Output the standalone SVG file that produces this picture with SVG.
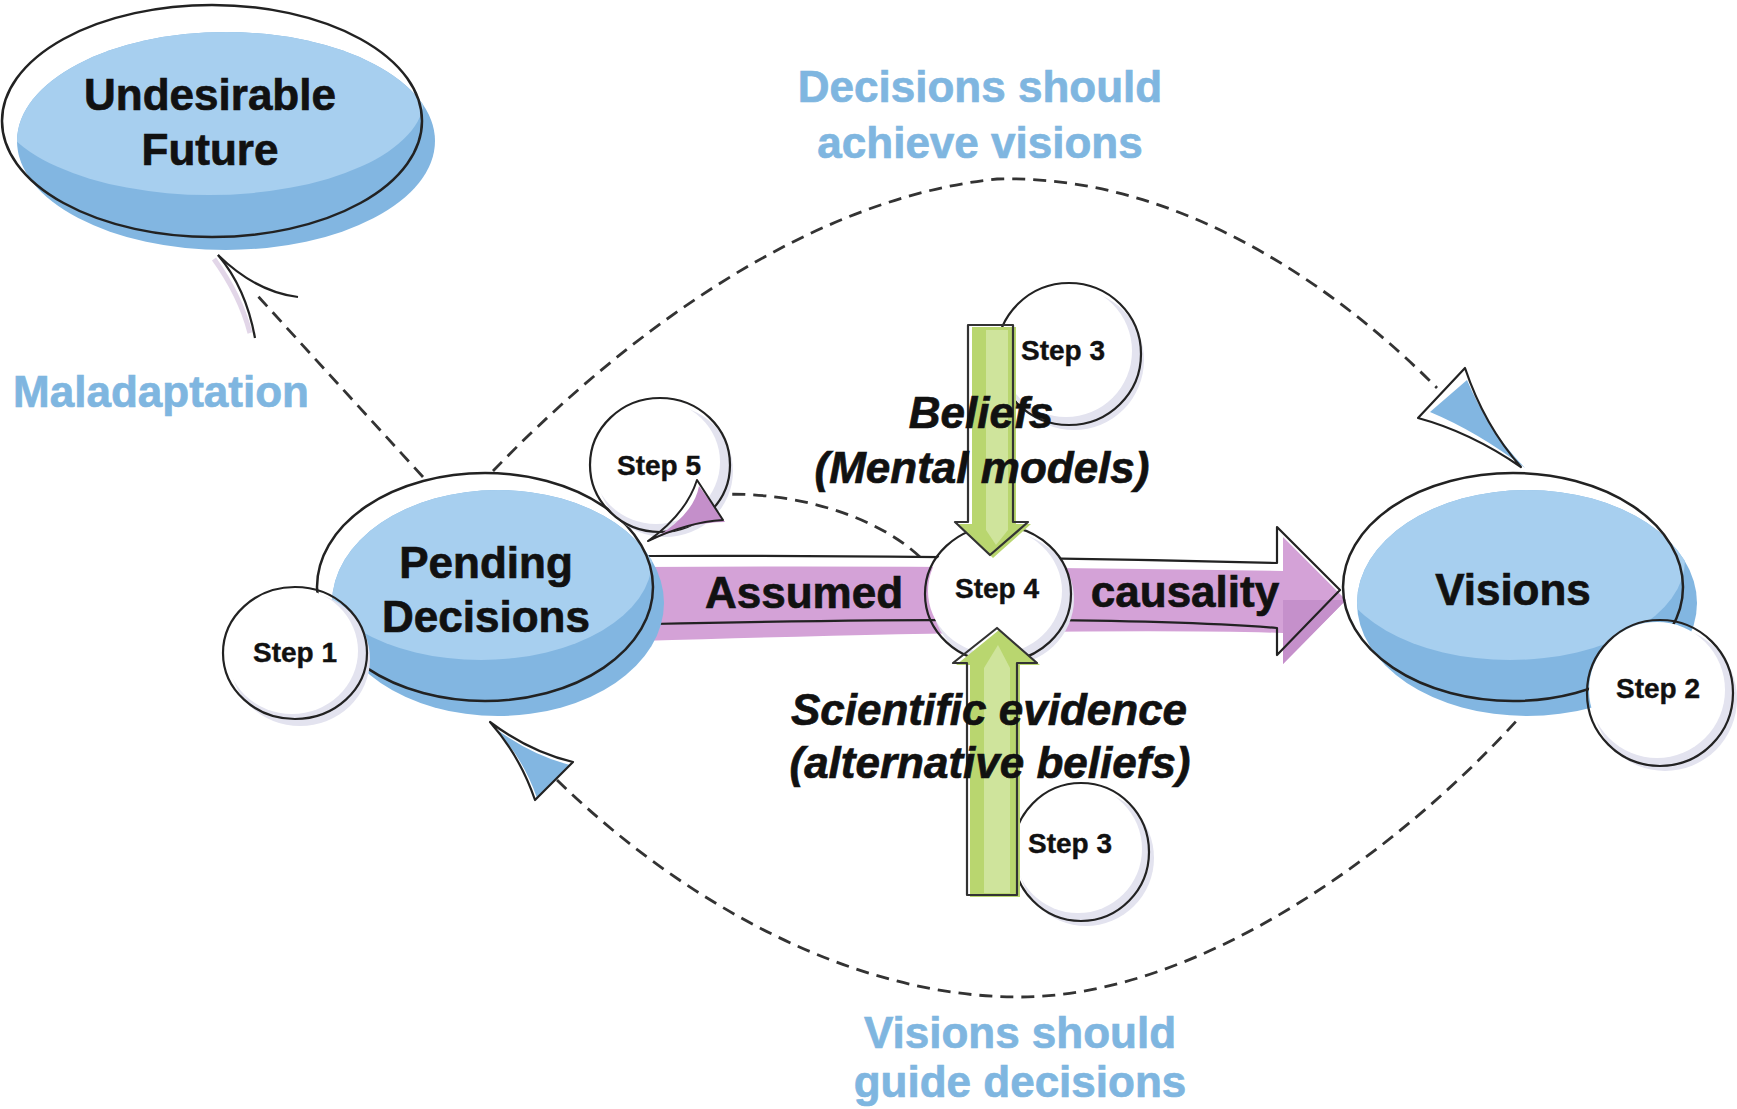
<svg xmlns="http://www.w3.org/2000/svg" width="1737" height="1109" viewBox="0 0 1737 1109">
<style>
.t{font-family:"Liberation Sans",Arial,sans-serif;font-weight:bold;font-size:44px;text-anchor:middle;fill:#111;stroke:#111;stroke-width:0.7}
.it{font-style:italic}
.bl{fill:#7fb6e0;stroke:#7fb6e0}
.st{font-size:28px;stroke-width:0.4}
.ol{fill:none;stroke:#222;stroke-width:2.5}
.dash{fill:none;stroke:#333;stroke-width:2.8;stroke-dasharray:13 8}
.dk{fill:#82b6e1}
.lt{fill:#a7cfef}
.sh{fill:#e3e3ef}
.wh{fill:#ffffff}
.so{fill:none;stroke:#222;stroke-width:2.2}
.gr{fill:#b9d66f}
.gl{fill:#cfe49c}
.go{fill:none;stroke:#333;stroke-width:2.2;stroke-linejoin:round}
</style>
<defs>
<clipPath id="cu"><ellipse cx="226" cy="141" rx="209" ry="109"/></clipPath>
<clipPath id="cp"><ellipse cx="498" cy="603" rx="166" ry="113"/></clipPath>
<clipPath id="cv"><ellipse cx="1527" cy="603" rx="170" ry="113"/></clipPath>
</defs>
<rect width="1737" height="1109" fill="#ffffff"/>

<g id="connectors">
  <path class="dash" d="M 423 477 L 255 293"/>
  <path d="M 214 259 Q 240 295 250 333" fill="none" stroke="#e2d6e8" stroke-width="5"/>
  <path d="M 218 255 Q 246 288 255 338" fill="none" stroke="#222" stroke-width="2.2"/>
  <path d="M 218 255 Q 256 292 298 297" fill="none" stroke="#222" stroke-width="2.2"/>
  <path class="dash" d="M 493 471 C 600 360, 790 200, 997 179 C 1180 174, 1340 290, 1437 388"/>
  <path d="M 1467 380 Q 1488 430 1525 468 Q 1478 432 1430 412 Z" fill="#82b6e1"/>
  <path d="M 1465 368 Q 1484 425 1521 467 Q 1470 432 1418 418 Z" fill="none" stroke="#222" stroke-width="2.2" stroke-linejoin="round"/>
  <path class="dash" d="M 557 780 C 680 900, 850 997, 1019 997 C 1200 997, 1400 850, 1520 717"/>
  <path d="M 492 726 Q 530 755 570 765 L 537 798 Q 522 755 492 726 Z" fill="#82b6e1"/>
  <path d="M 490 722 Q 530 752 573 762 L 535 800 Q 520 756 490 722 Z" fill="none" stroke="#222" stroke-width="2.2" stroke-linejoin="round"/>
  <path class="dash" d="M 920 557 C 870 510, 780 490, 713 495"/>
  <path d="M 640 567 Q 960 565 1283 571 L 1283 537 L 1346 600 L 1283 664 L 1283 633 Q 1100 627 640 641 Z" fill="#d4a2d7"/>
  <path d="M 1283 600 L 1346 600 L 1283 664 L 1283 633 Z" fill="#c590cb"/>
  <path d="M 648 556 Q 960 555 1277 563 L 1277 527 L 1340 590 L 1277 655 L 1277 628 Q 1100 614 652 624" fill="none" stroke="#222" stroke-width="2.2" stroke-linejoin="round"/>
</g>

<g id="node-undesirable-future">
  <ellipse class="dk" cx="226" cy="141" rx="209" ry="109"/>
  <ellipse class="lt" cx="209" cy="98" rx="215" ry="97" clip-path="url(#cu)"/>
  <ellipse class="ol" cx="212" cy="121" rx="210" ry="116"/>
  <text class="t" x="210" y="110">Undesirable</text>
  <text class="t" x="210" y="165">Future</text>
</g>

<g id="node-pending-decisions">
  <ellipse class="dk" cx="498" cy="603" rx="166" ry="113"/>
  <ellipse class="lt" cx="481" cy="560" rx="171" ry="100" clip-path="url(#cp)"/>
  <ellipse class="ol" cx="485" cy="587" rx="168" ry="114"/>
  <text class="t" x="486" y="578">Pending</text>
  <text class="t" x="486" y="632">Decisions</text>
</g>

<g id="node-visions">
  <ellipse class="dk" cx="1527" cy="603" rx="170" ry="113"/>
  <ellipse class="lt" cx="1510" cy="560" rx="175" ry="100" clip-path="url(#cv)"/>
  <ellipse class="ol" cx="1513" cy="587" rx="170" ry="114"/>
  <text class="t" x="1513" y="605">Visions</text>
</g>

<g id="node-step1">
  <ellipse class="sh" cx="300" cy="659" rx="70" ry="67"/>
  <ellipse class="wh" cx="292" cy="651" rx="66" ry="63"/>
  <ellipse class="so" cx="295" cy="653" rx="72" ry="66"/>
  <text class="t st" x="295" y="662">Step 1</text>
</g>

<g id="node-step2">
  <ellipse class="sh" cx="1665" cy="699" rx="72" ry="72"/>
  <ellipse class="wh" cx="1657" cy="690" rx="68" ry="68"/>
  <ellipse class="so" cx="1660" cy="693" rx="73" ry="73"/>
  <text class="t st" x="1658" y="698">Step 2</text>
</g>

<g id="node-step5">
  <ellipse class="sh" cx="665" cy="471" rx="68" ry="66"/>
  <ellipse class="wh" cx="656" cy="462" rx="64" ry="62"/>
  <ellipse class="so" cx="660" cy="465" rx="70" ry="67"/>
  <text class="t st" x="659" y="475">Step 5</text>
  <path d="M 699 486 Q 694 515 652 540 Q 690 522 725 522 Z" fill="#c48fca"/>
  <path d="M 697 480 L 723 520 Q 688 522 648 541 Q 686 514 697 480 Z" fill="none" stroke="#222" stroke-width="2" stroke-linejoin="round"/>
</g>

<g id="node-step3-top">
  <ellipse class="sh" cx="1074" cy="360" rx="70" ry="70"/>
  <ellipse class="wh" cx="1066" cy="351" rx="66" ry="66"/>
  <ellipse class="so" cx="1069" cy="354" rx="72" ry="71"/>
  <text class="t st" x="1063" y="360">Step 3</text>
</g>

<g id="node-step3-bottom">
  <ellipse class="sh" cx="1086" cy="858" rx="68" ry="68"/>
  <ellipse class="wh" cx="1078" cy="849" rx="64" ry="64"/>
  <ellipse class="so" cx="1081" cy="852" rx="68" ry="69"/>
  <text class="t st" x="1070" y="853">Step 3</text>
</g>

<g id="node-step4">
  <ellipse class="sh" cx="1003" cy="599" rx="71" ry="67"/>
  <ellipse class="wh" cx="995" cy="591" rx="67" ry="63"/>
  <ellipse class="so" cx="998" cy="594" rx="73" ry="68"/>
  <text class="t st" x="997" y="598">Step 4</text>
</g>

<g id="arrow-beliefs">
  <path class="gr" d="M 972 327 L 1016 327 L 1016 524 L 1031 524 L 993 558 L 958 524 L 972 524 Z"/>
  <path class="gl" d="M 986 330 L 1008 330 L 1008 530 L 996 545 L 986 530 Z"/>
  <path class="go" d="M 968 325 L 1013 325 L 1013 522 L 1028 522 L 990 555 L 955 522 L 968 522 Z"/>
</g>

<g id="arrow-evidence">
  <path class="gr" d="M 970 897 L 1020 897 L 1020 665 L 1040 665 L 999 630 L 956 665 L 970 665 Z"/>
  <path class="gl" d="M 984 893 L 1010 893 L 1010 668 L 998 645 L 984 668 Z"/>
  <path class="go" d="M 967 895 L 1017 895 L 1017 663 L 1037 663 L 997 628 L 953 663 L 967 663 Z"/>
</g>

<g id="labels">
  <text class="t" x="804" y="608">Assumed</text>
  <text class="t" x="1185" y="607">causality</text>
  <text class="t it" x="981" y="428">Beliefs</text>
  <text class="t it" x="982" y="483">(Mental models)</text>
  <text class="t it" x="989" y="725">Scientific evidence</text>
  <text class="t it" x="990" y="778">(alternative beliefs)</text>
  <text class="t bl" x="161" y="407">Maladaptation</text>
  <text class="t bl" x="980" y="102">Decisions should</text>
  <text class="t bl" x="980" y="158">achieve visions</text>
  <text class="t bl" x="1020" y="1048">Visions should</text>
  <text class="t bl" x="1020" y="1097">guide decisions</text>
</g>
</svg>
